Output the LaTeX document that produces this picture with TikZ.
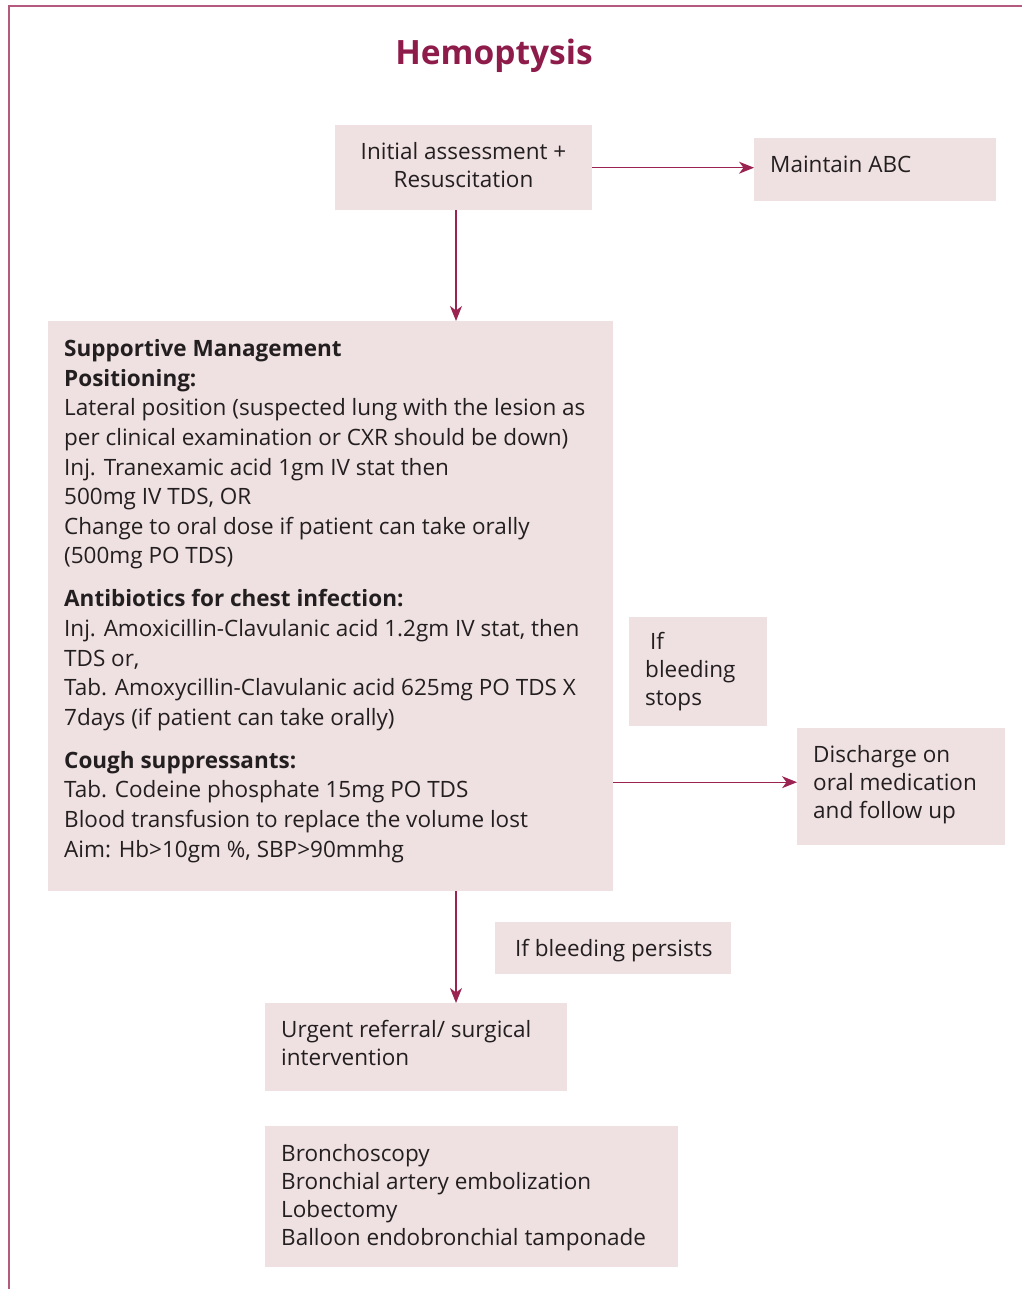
\documentclass[tikz,border=0pt]{standalone}
\usepackage{fontspec}
\setmainfont{Open Sans}
\usetikzlibrary{arrows.meta}
\definecolor{boxfill}{HTML}{EFE0E1}
\definecolor{wine}{HTML}{9A2352}
\definecolor{framecol}{HTML}{B35A7E}
\definecolor{titlecol}{HTML}{8E1C4B}
\definecolor{ink}{HTML}{231F20}
\newcommand\bodyfont{\fontsize{22.5pt}{29.6pt}\selectfont}
\begin{document}
\begin{tikzpicture}[x=1pt,y=-1pt,
  panel/.style={fill=boxfill, draw=none, anchor=north west, inner sep=0pt},
  txt/.style={anchor=base west, align=left, inner sep=0pt, font=\bodyfont, text=ink},
  flow/.style={draw=wine, line width=1.3pt,
    -{Stealth[length=15pt,width=12pt,inset=4.5pt]}}]
\useasboundingbox (0,0) rectangle (1022,1289);

% page frame
\draw[framecol, line width=2pt] (9,1289) -- (9,6) -- (1022,6);

% title
\node[anchor=base, inner sep=0pt, text=titlecol,
      font=\fontsize{33.5pt}{36pt}\selectfont\bfseries] (title) at (494,65) {Hemoptysis};

% boxes
\node[panel, minimum width=257, minimum height=85]  (init)   at (335,125)  {};
\node[panel, minimum width=242, minimum height=63]  (abc)    at (754,138)  {};
\node[panel, minimum width=565, minimum height=570] (supp)   at (48,321)   {};
\node[panel, minimum width=138, minimum height=109] (stops)  at (629,617)  {};
\node[panel, minimum width=208, minimum height=117] (disc)   at (797,728)  {};
\node[panel, minimum width=236, minimum height=52]  (persist) at (495,922) {};
\node[panel, minimum width=302, minimum height=88]  (urgent) at (265,1003) {};
\node[panel, minimum width=413, minimum height=141] (proc)   at (265,1126) {};

% texts (base anchor = baseline of the last line)
\node[txt, anchor=base, align=center] (initT) at (463.5,188)
  {Initial assessment +\\[-1.6pt]Resuscitation};
\node[txt] (abcT) at (770,173) {Maintain ABC};
\node[txt] (suppT) at (64,857) {%
  \textbf{Supportive Management}\\
  \textbf{Positioning:}\\
  Lateral position (suspected lung with the lesion as\\
  per clinical examination or CXR should be down)\\
  Inj. Tranexamic acid 1gm IV stat then\\
  500mg IV TDS, OR\\
  Change to oral dose if patient can take orally\\
  (500mg PO TDS)\\[13.4pt]
  \textbf{Antibiotics for chest infection:}\\
  Inj. Amoxicillin-Clavulanic acid 1.2gm IV stat, then\\
  TDS or,\\
  Tab. Amoxycillin-Clavulanic acid 625mg PO TDS X\\
  7days (if patient can take orally)\\[13.4pt]
  \textbf{Cough suppressants:}\\
  Tab. Codeine phosphate 15mg PO TDS\\
  Blood transfusion to replace the volume lost\\
  Aim: Hb>10gm \%, SBP>90mmhg};
\node[txt] (stopsT) at (645,705)
  {\hspace{5pt}If\\[-1.6pt]bleeding\\[-1.6pt]stops};
\node[txt] (discT) at (813,818)
  {Discharge on\\[-1.6pt]oral medication\\[-1.6pt]and follow up};
\node[txt] (persistT) at (515,956) {If bleeding persists};
\node[txt] (urgentT) at (281,1065)
  {Urgent referral/ surgical\\[-1.6pt]intervention};
\node[txt] (procT) at (281,1245)
  {Bronchoscopy\\[-1.6pt]Bronchial artery embolization\\[-1.6pt]Lobectomy\\[-1.6pt]Balloon endobronchial tamponade};

% connectors
\coordinate (spine) at (456,0);
\draw[flow] (init.east) -- (init.east -| abc.west);
\draw[flow] (spine |- init.south) -- (spine |- supp.north);
\draw[flow] ([yshift=4.5pt]disc.west -| supp.east) -- ([yshift=4.5pt]disc.west);
\draw[flow] (spine |- supp.south) -- (spine |- urgent.north);
\end{tikzpicture}
\end{document}
